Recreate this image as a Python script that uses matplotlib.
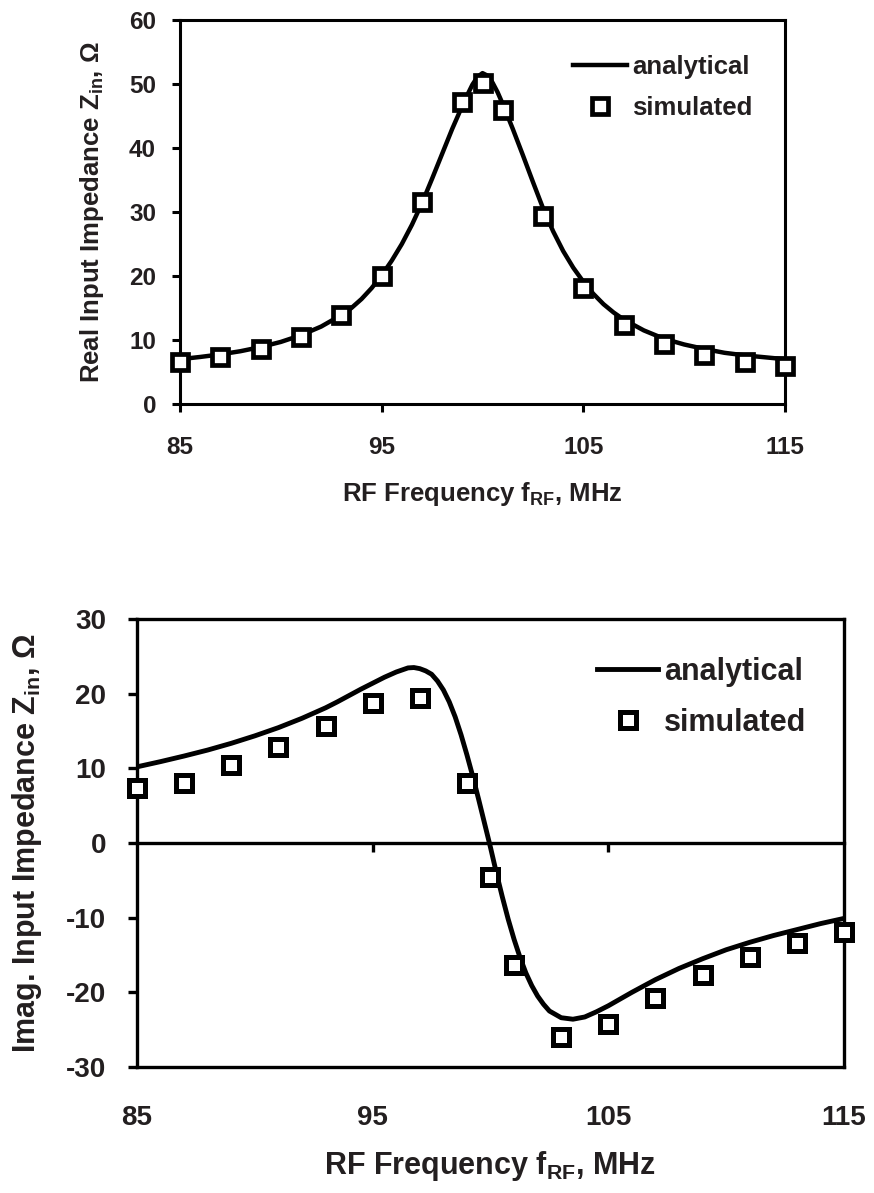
import matplotlib
matplotlib.use('Agg')
import matplotlib.pyplot as plt

plt.rcParams['font.family'] = ['Liberation Sans', 'DejaVu Sans']
plt.rcParams['font.weight'] = 'bold'
plt.rcParams['axes.labelweight'] = 'bold'
plt.rcParams['axes.unicode_minus'] = False
plt.rcParams['mathtext.fontset'] = 'custom'
plt.rcParams['mathtext.rm'] = 'Liberation Sans:bold'
plt.rcParams['mathtext.bf'] = 'Liberation Sans:bold'
plt.rcParams['mathtext.it'] = 'Liberation Sans:bold'
plt.rcParams['mathtext.default'] = 'bf'

TXT = '#231f20'
PX = 72.0 / 100  # points per pixel at dpi=100

# simulated points (both plots share frequencies)
f_sim = [85, 87, 89, 91, 93, 95, 97, 99, 100, 101, 103, 105, 107, 109, 111, 113, 115]
re_sim = [6.6, 7.4, 8.6, 10.5, 13.9, 20.0, 31.5, 47.2, 50.1, 45.9, 29.3, 18.1, 12.3, 9.3, 7.7, 6.5, 5.9]
im_sim = [7.3, 8.0, 10.5, 12.8, 15.7, 18.7, 19.4, 8.1, -4.5, -16.4, -26.0, -24.3, -20.7, -17.7, -15.3, -13.4, -11.9]

# analytical curves
f_re_an = [85, 86, 87, 88, 89, 90, 91, 92, 93, 93.5, 94, 94.5, 95, 95.5, 96, 96.5, 97, 97.5,
           98, 98.5, 99, 99.25, 99.5, 99.75, 100, 100.25, 100.5, 100.75, 101, 101.5, 102,
           102.5, 103, 103.5, 104, 104.5, 105, 105.5, 106, 106.5, 107, 108, 109, 110, 111,
           112, 113, 114, 115]
re_an = [7.0, 7.35, 7.75, 8.25, 8.9, 9.7, 10.75, 12.1, 13.9, 15.0, 16.4, 18.1, 20.1, 22.4,
         25.0, 28.0, 31.4, 35.2, 39.1, 43.0, 46.6, 48.3, 49.9, 51.1, 51.7, 51.3, 50.2, 48.7,
         46.9, 43.0, 38.9, 34.7, 30.6, 27.0, 23.9, 21.3, 19.1, 17.2, 15.6, 14.3, 13.2, 11.5,
         10.2, 9.3, 8.6, 8.0, 7.6, 7.3, 7.0]

f_im_an = [85, 86, 87, 88, 89, 90, 91, 92, 93, 93.5, 94, 94.5, 95, 95.5, 96, 96.5, 96.75, 97,
           97.25, 97.5, 97.75, 98, 98.25, 98.5, 98.75, 99, 99.25, 99.5, 99.75, 100, 100.25,
           100.5, 100.75, 101, 101.25, 101.5, 101.75, 102, 102.25, 102.5, 103, 103.5, 104,
           104.5, 105, 105.5, 106, 107, 108, 109, 110, 111, 112, 113, 114, 115]
im_an = [10.2, 10.9, 11.65, 12.45, 13.35, 14.35, 15.45, 16.7, 18.1, 18.9, 19.75, 20.6, 21.4,
         22.2, 22.9, 23.45, 23.5, 23.35, 23.05, 22.6, 21.7, 20.5, 18.9, 16.9, 14.5, 11.8, 8.9,
         5.8, 2.6, -0.6, -4.0, -7.2, -10.2, -12.9, -15.3, -17.4, -19.1, -20.5, -21.6, -22.5,
         -23.4, -23.6, -23.3, -22.6, -21.8, -20.9, -20.0, -18.3, -16.8, -15.5, -14.3, -13.3,
         -12.4, -11.6, -10.8, -10.1]

x_ticks = [85, 95, 105, 115]

fig = plt.figure(figsize=(8.74, 11.93), dpi=100)

# ---- top: real part
ax1 = fig.add_axes([180 / 874, 1 - 404 / 1193, 605 / 874, 384 / 1193])
ax1.plot(f_re_an, re_an, color='black', lw=3.2, label='analytical')
ax1.plot(f_sim, re_sim, ls='none', marker='s', ms=11.5, mew=3.4, mfc='white', mec='black',
         label='simulated', clip_on=False, zorder=3)
ax1.set_xlim(85, 115)
ax1.set_ylim(0, 60)
ax1.set_xticks(x_ticks)
ax1.set_yticks(range(0, 61, 10))
ax1.tick_params(axis='both', direction='out', length=8 * PX, width=2.2, labelsize=17.5,
                labelcolor=TXT)
ax1.tick_params(axis='y', pad=16 * PX)
ax1.tick_params(axis='x', pad=23.5 * PX)
for s in ax1.spines.values():
    s.set_linewidth(2.2)
ax1.set_xlabel('RF Frequency f$_{RF}$, MHz', fontsize=18.5, fontweight='bold', color=TXT,
               va='center')
ax1.xaxis.set_label_coords(0.5, -0.234)
ax1.set_ylabel('Real Input Impedance Z$_{in}$, Ω', fontsize=18.5, fontweight='bold', color=TXT,
               va='center')
ax1.yaxis.set_label_coords(-0.1455, 0.5)
leg1 = ax1.legend(loc='upper left', bbox_to_anchor=(0.6496, 0.909), frameon=False,
                  borderpad=0, borderaxespad=0, handlelength=2.1, handletextpad=0.2,
                  labelspacing=0.65, numpoints=1, prop={'size': 18.5, 'weight': 'bold'})
for t in leg1.get_texts():
    t.set_color(TXT)

# ---- bottom: imaginary part
ax2 = fig.add_axes([137 / 874, 1 - 1067 / 1193, 707 / 874, 448 / 1193])
ax2.plot(f_im_an, im_an, color='black', lw=3.5, label='analytical')
ax2.plot(f_sim, im_sim, ls='none', marker='s', ms=12, mew=3.6, mfc='white', mec='black',
         label='simulated', clip_on=False, zorder=3)
ax2.set_xlim(85, 115)
ax2.set_ylim(-30, 30)
ax2.set_xticks(x_ticks)
ax2.set_yticks(range(-30, 31, 10))
ax2.tick_params(axis='y', direction='out', length=9 * PX, width=2.4, labelsize=20,
                labelcolor=TXT, pad=22 * PX)
ax2.tick_params(axis='x', length=0, labelsize=20, labelcolor=TXT, pad=38 * PX)
for s in ax2.spines.values():
    s.set_linewidth(2.4)

# category axis crossing at zero
sec = ax2.secondary_xaxis(0, transform=ax2.transData)
sec.set_xticks([95, 105])
sec.set_xticklabels([])
sec.tick_params(axis='x', direction='out', length=9 * PX, width=2.4)
for s in sec.spines.values():
    s.set_linewidth(2.4)

ax2.set_xlabel('RF Frequency f$_{RF}$, MHz', fontsize=22, fontweight='bold', color=TXT,
               va='center')
ax2.xaxis.set_label_coords(0.5, -0.221)
ax2.set_ylabel('Imag. Input Impedance Z$_{in}$, Ω', fontsize=22, fontweight='bold', color=TXT,
               va='center')
ax2.yaxis.set_label_coords(-0.156, 0.5)
leg2 = ax2.legend(loc='upper left', bbox_to_anchor=(0.6506, 0.916), frameon=False,
                  borderpad=0, borderaxespad=0, handlelength=2.0, handletextpad=0.2,
                  labelspacing=0.69, numpoints=1, prop={'size': 22, 'weight': 'bold'})
for t in leg2.get_texts():
    t.set_color(TXT)

fig.savefig('out.png', dpi=100)
